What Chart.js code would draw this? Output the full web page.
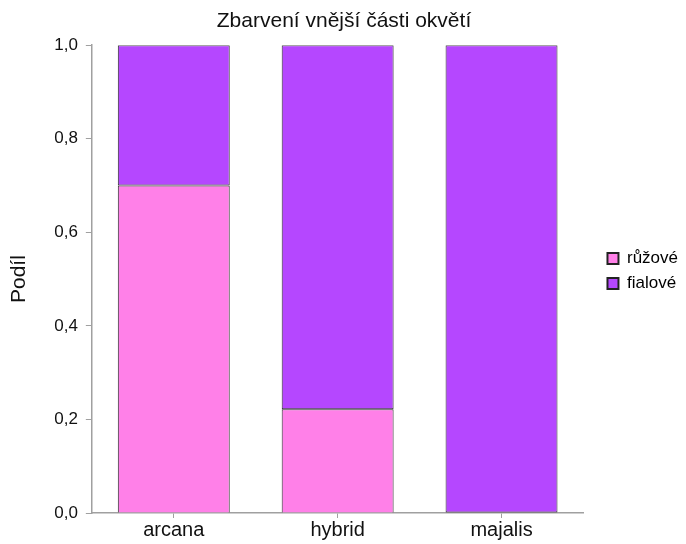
<!DOCTYPE html>
<html>
<head>
<meta charset="utf-8">
<script src="https://cdn.jsdelivr.net/npm/chart.js@4/dist/chart.umd.min.js"></script>
<style>
  html, body { margin: 0; padding: 0; background: #fff; }
  #wrap { width: 686px; height: 544px; }
</style>
</head>
<body>
<div id="wrap"><canvas id="chartCanv" width="686" height="544"></canvas></div>
<script>
const categories = ['arcana', 'hybrid', 'majalis'];
const ruzove = [0.70, 0.222, 0.0];
const fialove = [0.30, 0.778, 1.0];
const seriesNames = ['růžové', 'fialové'];

const fontName = "'Liberation Sans', Arial, sans-serif";
const axisGray = '#a0a0a0';

const chartCanv = document.getElementById('chartCanv');
const chart = new Chart(chartCanv, {
    type: 'bar',
    data: {
        labels: categories,
        datasets: [{
            label: seriesNames[0],
            data: ruzove,
            backgroundColor: '#ff80e8',
            borderColor: '#2a2a2a',
            borderWidth: 1,
            barPercentage: 0.683,
            categoryPercentage: 1.0
        },
        {
            label: seriesNames[1],
            data: fialove,
            backgroundColor: '#b547ff',
            borderColor: '#2a2a2a',
            borderWidth: 1,
            borderSkipped: false,   // keep the dark line between the two parts
            barPercentage: 0.683,
            categoryPercentage: 1.0
        }]
    },
    options: {
        responsive: false,
        animation: false,
        layout: { padding: { left: 0, right: -2, top: 0, bottom: 2 } },
        plugins: {
            title: {
                display: true,
                text: 'Zbarvení vnější části okvětí',
                color: '#111',
                font: { family: fontName, size: 21, weight: 'normal' },
                padding: { top: 9, bottom: 11 }
            },
            legend: {
                position: 'right',
                labels: {
                    color: '#111',
                    font: { family: fontName, size: 17 },
                    boxWidth: 11,
                    boxHeight: 11,
                    padding: 8,
                    generateLabels: c => c.data.datasets.map((ds, i) => ({
                        text: ds.label,
                        fillStyle: ds.backgroundColor,
                        strokeStyle: '#222',
                        lineWidth: 2,
                        datasetIndex: i
                    }))
                }
            },
            tooltip: { enabled: false }
        },
        scales: {
            x: {
                stacked: true,
                grid: { display: true, drawOnChartArea: false, drawTicks: true, tickLength: 5, offset: false, color: axisGray },
                border: { display: true, color: axisGray, width: 1.5 },
                ticks: { color: '#111', font: { family: fontName, size: 20 }, padding: 0 }
            },
            y: {
                stacked: true,
                min: 0,
                max: 1,
                grid: { display: true, drawOnChartArea: false, drawTicks: true, tickLength: 6, color: axisGray },
                border: { display: true, color: axisGray, width: 1.5 },
                title: {
                    display: true,
                    text: 'Podíl',
                    color: '#111',
                    font: { family: fontName, size: 21 },
                    padding: { top: 7, bottom: 14 }
                },
                ticks: {
                    stepSize: 0.2,
                    color: '#111',
                    font: { family: fontName, size: 17 },
                    padding: 8,
                    callback: v => v.toFixed(1).replace('.', ',')
                }
            },
            // empty spacer between the plot and the legend
            gap: {
                position: 'right',
                display: true,
                grid: { display: false },
                border: { display: false },
                ticks: { display: false },
                afterFit: scale => { scale.width = 16; }
            }
        }
    }
});
</script>
</body>
</html>
